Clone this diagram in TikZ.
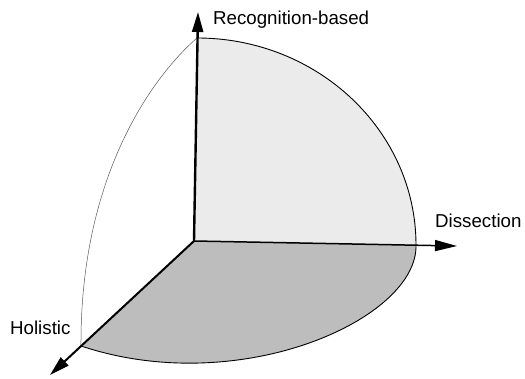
\documentclass[tikz,border=0pt]{standalone}
\usepackage{fontspec}
\setmainfont{Liberation Sans}
\usetikzlibrary{arrows.meta}

\begin{document}
\begin{tikzpicture}[
        x=1pt, y=1pt,
        axisarrow/.style={-{Triangle[length=20pt, width=11pt]}, line width=2pt},
        rim/.style={line width=0.9pt},
        axislabel/.style={anchor=base west, inner sep=0pt,
                          font=\fontsize{18.7}{22}\selectfont},
    ]
    \useasboundingbox (0,0) rectangle (525,379);

    % origin, axis tips and the corners of the octant
    \coordinate (o)      at (194,138);
    \coordinate (recTip) at (198,367);
    \coordinate (disTip) at (457,133);
    \coordinate (holTip) at (50,4);
    \coordinate (top)    at (197,341);
    \coordinate (right)  at (416,134);
    \coordinate (front)  at (81,33);

    % shaded faces
    \fill[gray!16] (o) -- (top) .. controls (318,341) and (416,248) .. (right) -- cycle;
    \fill[gray!52] (o) -- (right) .. controls (418,60) and (240,-20) .. (front) -- cycle;

    % rims of the octant
    \draw[rim] (top) .. controls (318,341) and (416,248) .. (right);
    \draw[rim] (right) .. controls (418,60) and (240,-20) .. (front);
    \draw[line width=0.5pt, gray!70!black] (top) .. controls (150,300) and (80,200) .. (front);

    % axes
    \draw[axisarrow, line width=2.4pt] (o) -- (recTip);
    \draw[axisarrow, line width=1.5pt, -{Triangle[length=22pt, width=11pt]}] (o) -- (disTip);
    \draw[axisarrow] (o) -- (holTip);

    % axis labels
    \node[axislabel] (recLabel) at (213,354) {Recognition-based};
    \node[axislabel] (disLabel) at (435,151) {Dissection};
    \node[axislabel] (holLabel) at (10,44)   {Holistic};
\end{tikzpicture}
\end{document}
